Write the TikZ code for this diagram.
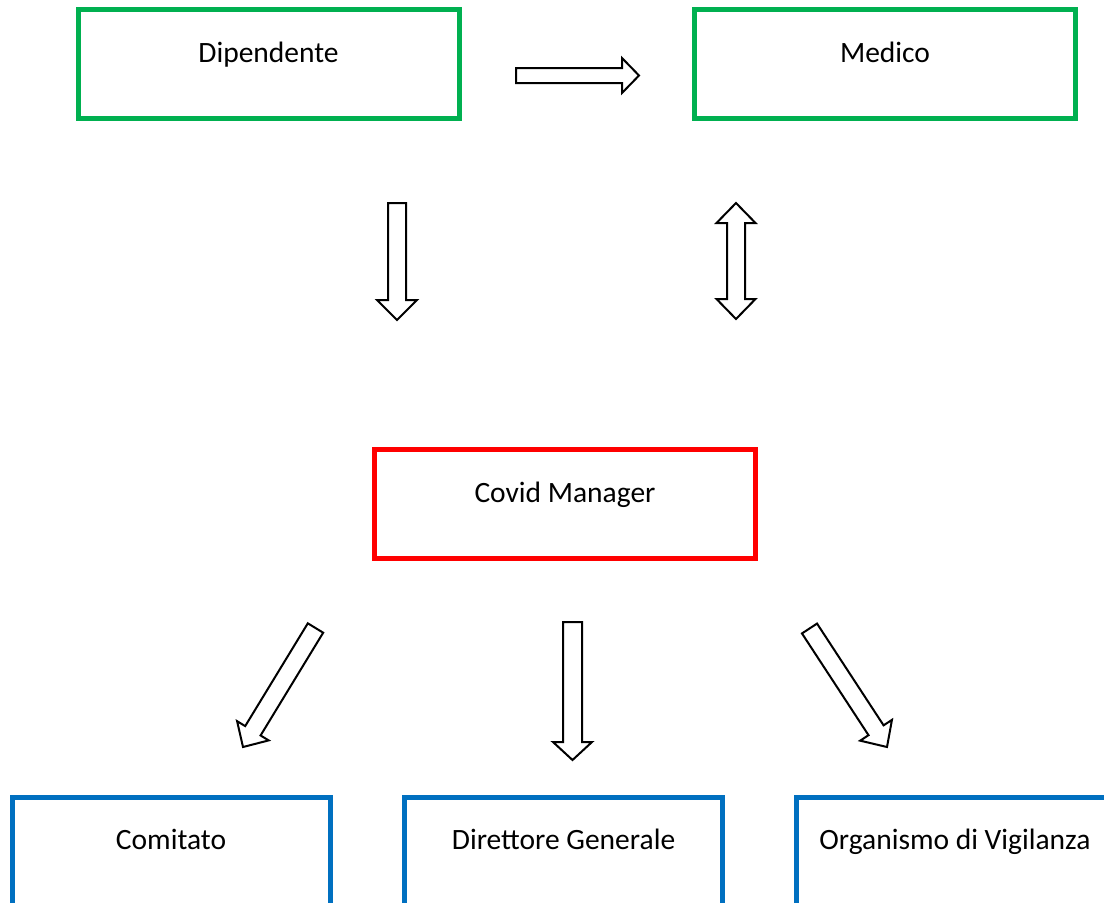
\documentclass[tikz,border=0pt]{standalone}
\usepackage{fontspec}
\setmainfont{Carlito}
\usetikzlibrary{calc}
\definecolor{boxgreen}{HTML}{00B050}
\definecolor{boxred}{HTML}{FF0000}
\definecolor{boxblue}{HTML}{0070C0}
\tikzset{
  box/.style={draw, line width=5pt, rectangle, anchor=north, inner sep=0pt, outer sep=0pt,
    minimum width=381pt, text height=52.5pt, text depth=56.5pt,
    font=\fontsize{29.5}{35}\selectfont},
  smallbox/.style={box, minimum width=318pt},
  fatarrow/.style={draw=black, fill=white, line width=2pt, line join=miter},
}
\newcommand\fatarr[6]{%
  \coordinate (#1-hb) at ($(#3)!#6!(#2)$);
  \draw[fatarrow] ($(#2)!#4!90:(#3)$) -- ($(#1-hb)!#4!-90:(#2)$) -- ($(#1-hb)!#5!-90:(#2)$) -- (#3)
    -- ($(#1-hb)!#5!90:(#2)$) -- ($(#1-hb)!#4!90:(#2)$) -- ($(#2)!#4!-90:(#3)$) -- cycle;
}
\newcommand\dblarr[6]{%
  \coordinate (#1-ha) at ($(#2)!#6!(#3)$);
  \coordinate (#1-hb) at ($(#3)!#6!(#2)$);
  \draw[fatarrow] (#2) -- ($(#1-ha)!#5!90:(#3)$) -- ($(#1-ha)!#4!90:(#3)$) -- ($(#1-hb)!#4!-90:(#2)$)
    -- ($(#1-hb)!#5!-90:(#2)$) -- (#3) -- ($(#1-hb)!#5!90:(#2)$) -- ($(#1-hb)!#4!90:(#2)$)
    -- ($(#1-ha)!#4!-90:(#3)$) -- ($(#1-ha)!#5!-90:(#3)$) -- cycle;
}
\begin{document}
\begin{tikzpicture}[x=1pt, y=-1pt]
\useasboundingbox (0,0) rectangle (1104,903);
\clip (0,0) rectangle (1104,903);
\fill[white] (0,0) rectangle (1104,903);

\node[box, draw=boxgreen] (dip) at (268.5,9.5) {Dipendente};
\node[box, draw=boxgreen] (med) at (885,9.5) {Medico};
\node[box, draw=boxred] (cm) at (565,449.5) {Covid Manager};
\node[smallbox, draw=boxblue] (com) at (171,797) {Comitato};
\node[smallbox, draw=boxblue] (dg) at (563.5,797) {Direttore Generale};
\node[smallbox, draw=boxblue] (odv) at (955,797) {Organismo di Vigilanza};

% arrows
\coordinate (a1t) at (516,75.5);   \coordinate (a1h) at (639,75.5);
\coordinate (a2t) at (397,203);    \coordinate (a2h) at (397,320);
\coordinate (a3t) at (736,203);    \coordinate (a3h) at (736,319);
\coordinate (a4t) at (572.5,622);  \coordinate (a4h) at (572.5,760);
\coordinate (a5t) at (315.5,628);  \coordinate (a5h) at (243,747);
\coordinate (a6t) at (809.5,628.5);\coordinate (a6h) at (887,747);

\fatarr{a1}{a1t}{a1h}{7.5pt}{17.5pt}{17pt}
\fatarr{a2}{a2t}{a2h}{9pt}{20pt}{20pt}
\dblarr{a3}{a3t}{a3h}{9pt}{19.5pt}{20pt}
\fatarr{a4}{a4t}{a4h}{9.5pt}{19.5pt}{18pt}
\fatarr{a5}{a5t}{a5h}{9pt}{18.5pt}{19pt}
\fatarr{a6}{a6t}{a6h}{9pt}{19pt}{20pt}
\end{tikzpicture}
\end{document}
